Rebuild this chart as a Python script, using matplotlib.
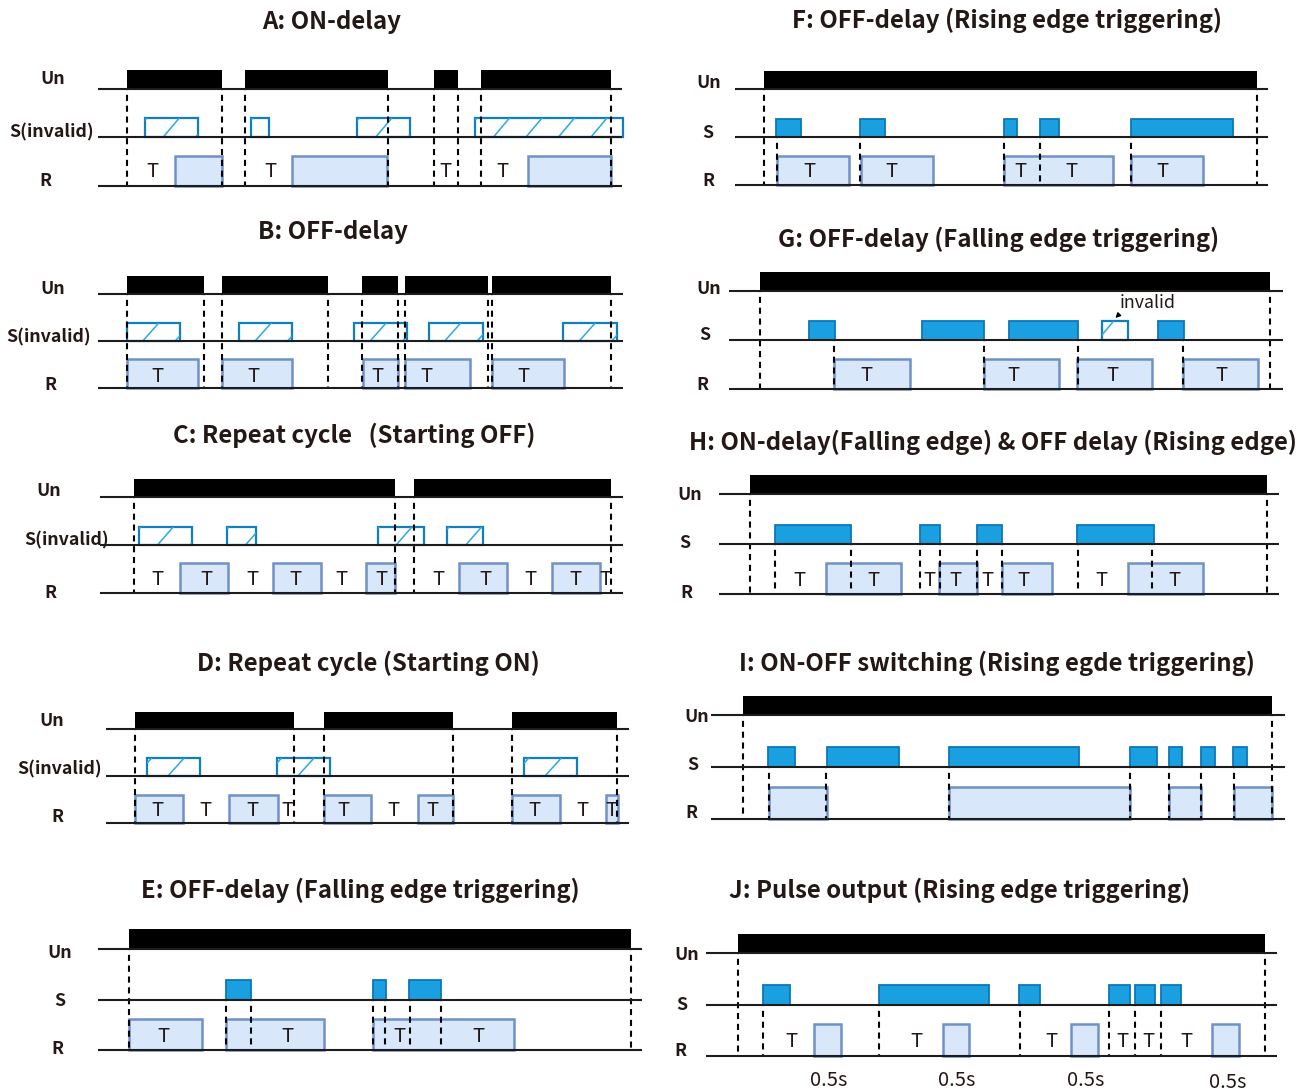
import matplotlib
matplotlib.use("Agg")
import matplotlib.pyplot as plt
from matplotlib.patches import Rectangle

plt.rcParams['font.family'] = ['Noto Sans CJK SC', 'DejaVu Sans']
plt.rcParams['lines.scale_dashes'] = False

# ---- timing data: (start, end) of every ON interval on a shared time scale ----
A_UN = [(127, 222), (245, 387.6), (434.4, 458.5), (481, 611.2)]
A_S = [(144.8, 198.3), (251, 269.3), (357.3, 410.4), (475, 622.8)]
A_R = [(174.7, 221.6), (292.5, 387), (528, 611)]
A_T = [152.5, 270.5, 445.5, 502]

B_UN = [(127, 204.1), (222.4, 328.2), (362.2, 398.3), (404.6, 487.6), (492.5, 610.8)]
B_S = [(127, 180.5), (239.4, 292.5), (354.4, 407.5), (429, 482.6), (563.5, 616.6)]
B_R = [(127, 198), (222, 292.5), (363, 398.3), (404.6, 469.7), (492.5, 564)]
B_T = [157.2, 253.5, 377.1, 426.1, 523.5]

C_UN = [(134, 395.4), (413.7, 610.8)]
C_S = [(139, 192.5), (227, 256.4), (377.6, 424.5), (447.3, 483)]
C_R = [(180.5, 227.8), (273.4, 320.7), (366.4, 395.4), (459.3, 507), (552.3, 600)]
C_T = [157.2, 206.1, 252.5, 295.8, 341.8, 381.2, 438.9, 485, 530.5, 575.5, 605.3]

D_UN = [(135.3, 294.2), (324.5, 453.5), (511.6, 617.4)]
D_S = [(146.9, 200.4), (276.8, 330.3), (524, 577.2)]
D_R = [(135.3, 183), (229.5, 277.6), (324.5, 371.4), (418.3, 453), (512.4, 559.8), (606.2, 618)]
D_T = [157.2, 205.7, 252.5, 287.1, 343.9, 393.7, 432.3, 534.8, 582.5, 611.5]

E_UN = [(129, 630.7)]
E_S = [(226, 251.5), (372.6, 386.3), (409.5, 441)]
E_R = [(128.6, 202.5), (226, 324.5), (373, 514.5)]
E_T = [163.5, 287.5, 399.5, 478.5]
E_MARKS = [226, 251, 372.6, 385, 410, 441]

F_UN = [(764, 1258.7)]
F_S = [(776.6, 801.9), (860.8, 886), (1005.2, 1018.5), (1041.3, 1060.8), (1132.2, 1235)]
F_R = [(777, 849.6), (861.2, 933.8), (1005.2, 1114.3), (1132.6, 1204.4)]
F_T = [809.8, 892.7, 1021.8, 1072.4, 1164.5]
F_MARKS = [777, 861, 1005, 1041.7, 1132.5]

G_UN = [(760.4, 1272.4)]
G_S = [(809.8, 835.5), (923, 985.3), (1009.8, 1079), (1159.5, 1185.3)]
G_S_INVALID = [(1103.5, 1129.2)]
G_R = [(835, 910.6), (984.9, 1060.4), (1078.6, 1154), (1184.9, 1260.4)]
G_T = [867.4, 1015, 1114.3, 1223.4]
G_MARKS = [835, 985, 1079, 1185]

H_UN = [(750.4, 1268.7)]
H_S = [(775.3, 852), (920.5, 940.5), (977.8, 1003.5), (1078.6, 1155.4)]
H_R = [(826.3, 902.3), (940, 977.8), (1003, 1053.7), (1129.3, 1205.2)]
H_T = [799.8, 874.5, 930.5, 956.2, 989, 1025, 1102.7, 1175.7]
H_MARKS = [775.5, 852, 921, 940.5, 978, 1003, 1079, 1154]

I_UN = [(743.4, 1274.5)]
I_S = [(768.7, 795.6), (827.2, 899.4), (950, 1080.7), (1131.3, 1158.3), (1170.3, 1184), (1202.7, 1216.4), (1235, 1249)]
I_R = [(769, 827.2), (950, 1131.7), (1170.3, 1202.7), (1235.5, 1274.5)]
I_T = []
I_MARKS = [769, 827, 950.4, 1131.7, 1170.3, 1202.7, 1235.5]

J_UN = [(738.4, 1266.6)]
J_S = [(763.3, 790.2), (879.5, 989.8), (1020.5, 1041.3), (1111, 1131.3), (1136.7, 1157), (1162.4, 1182.8)]
J_R = [(815, 841.7), (943.8, 970), (1072.8, 1099), (1214.3, 1240.5)]
J_T = [792, 917.6, 1053, 1124.3, 1150, 1188]
J_MARKS = [763.5, 879.5, 1021, 1111, 1137, 1162.6]
J_PULSE_LABELS = ['0.5s', '0.5s', '0.5s', '0.5s']
J_PULSE_X = [829.3, 957.9, 1087, 1229.7]

TITLES = {
    'A': 'A: ON-delay', 'B': 'B: OFF-delay', 'C': 'C: Repeat cycle   (Starting OFF)',
    'D': 'D: Repeat cycle (Starting ON)', 'E': 'E: OFF-delay (Falling edge triggering)',
    'F': 'F: OFF-delay (Rising edge triggering)', 'G': 'G: OFF-delay (Falling edge triggering)',
    'H': 'H: ON-delay(Falling edge) & OFF delay (Rising edge)',
    'I': 'I: ON-OFF switching (Rising egde triggering)', 'J': 'J: Pulse output (Rising edge triggering)',
}

# ---- layout of each panel, in figure pixels ----
LAYOUT = {
    'A': dict(tit=(331.5, 21), lx=(98, 622), Un=(88.5, 70), S=(137, 118), R=(186, 156),
              lab=((53, 78), (52, 131), (45, 179)), ty=170, sl='S(invalid)', phase=18.5),
    'B': dict(tit=(333, 230), lx=(98, 623), Un=(293.5, 276), S=(340.7, 322.7), R=(387.5, 359),
              lab=((53, 287), (49, 336), (50, 384)), ty=375, sl='S(invalid)', phase=16),
    'C': dict(tit=(354.5, 434), lx=(100, 622.6), Un=(497, 479), S=(545, 526.7), R=(593, 562.7),
              lab=((49, 490), (67, 539), (50.6, 591)), ty=578, sl='S(invalid)', phase=18.5),
    'D': dict(tit=(368, 662), lx=(106, 629.5), Un=(729.3, 712), S=(776, 758.3), R=(823.3, 795),
              lab=((51.5, 719), (60, 768), (57, 815)), ty=809, sl='S(invalid)', phase=21),
    'E': dict(tit=(360.6, 889), lx=(98, 642), Un=(949, 929), S=(999.7, 980), R=(1050, 1019),
              lab=((60, 952), (59.5, 999), (57.5, 1047)), ty=1035, sl='S'),
    'F': dict(tit=(1008, 19), lx=(735, 1270), Un=(89.3, 71), S=(137, 118.7), R=(185, 156),
              lab=((708.5, 81), (708.5, 132), (709, 179)), ty=170, sl='S'),
    'G': dict(tit=(1000, 238), lx=(729, 1285), Un=(290.7, 272), S=(340.3, 321.3), R=(389.3, 359.3),
              lab=((708.5, 287), (704.8, 334), (702.3, 384)), ty=374, sl='S'),
    'H': dict(tit=(994, 441), lx=(719.3, 1281), Un=(493.7, 475), S=(544.3, 524.7), R=(594.3, 563.3),
              lab=((690, 493), (685.3, 541), (686.5, 592)), ty=579, sl='S'),
    'I': dict(tit=(998, 662), lx=(711, 1287), Un=(715.3, 696), S=(767, 747.3), R=(818.7, 787),
              lab=((697, 715), (692.7, 763), (691.5, 811)), ty=796, sl='S'),
    'J': dict(tit=(961, 889), lx=(706, 1278.6), Un=(953.3, 934), S=(1004.7, 984.7), R=(1056, 1024),
              lab=((686.5, 954), (681.5, 1003), (680.7, 1049)), ty=1040, sl='S'),
}

INK = '#231815'
S_FILL, S_EDGE = '#1a9fe0', '#0b78b8'
INV_EDGE, SLASH = '#0f7fc0', '#29a9e6'
R_FILL, R_EDGE = '#d8e7fa', '#7090c8'
DASH = (3.6, (4.4, 3.4))
SLASH_GAP = 32.5
TITLE_SIZE = 17.3
LABEL_SIZE = 12.8
TEXT_DY = 1.5

fig = plt.figure(figsize=(12.99, 10.91), dpi=100, facecolor='white')
ax_left = fig.add_axes([0, 0, 1, 1])
ax_left.set_xlim(0, 1299)
ax_left.set_ylim(1091, 0)
ax_left.axis('off')
# the right-hand column runs on a very slightly tighter time scale
ax_right = fig.add_axes([0, 0, 1, 1])
ax_right.set_xlim(-2.15, 1301.15)
ax_right.set_ylim(1091, 0)
ax_right.axis('off')
ax_right.patch.set_alpha(0)


def invalid_box(ax, x0, x1, base, top, phase):
    ax.add_patch(Rectangle((x0, top), x1 - x0, base - top, fc='white', ec=INV_EDGE, lw=1.6, zorder=3))
    clip = Rectangle((x0, top), x1 - x0, base - top, transform=ax.transData)
    x = x0 + phase - SLASH_GAP
    while x < x1:
        ln, = ax.plot([x, x + 16], [base, top], color=SLASH, lw=1.1, zorder=3.1)
        ln.set_clip_path(clip)
        x += SLASH_GAP


def panel(ax, key, un, s, r, t, marks=(), invalid=()):
    L = LAYOUT[key]
    ax.text(L['tit'][0], L['tit'][1] + TEXT_DY, TITLES[key], ha='center', va='center',
            fontsize=TITLE_SIZE, fontweight='bold', color=INK)
    for pos, lab in zip(L['lab'], ('Un', L['sl'], 'R')):
        ax.text(pos[0], pos[1] + TEXT_DY, lab, ha='center', va='center', fontsize=LABEL_SIZE,
                fontweight='bold', color=INK)
    for x0, x1 in un:
        ax.add_patch(Rectangle((x0, L['Un'][1]), x1 - x0, L['Un'][0] - L['Un'][1],
                               fc='black', ec='none', zorder=3))
    hatched = L['sl'] != 'S'
    for x0, x1 in s:
        if hatched:
            invalid_box(ax, x0, x1, L['S'][0], L['S'][1], L['phase'])
        else:
            ax.add_patch(Rectangle((x0, L['S'][1]), x1 - x0, L['S'][0] - L['S'][1],
                                   fc=S_FILL, ec=S_EDGE, lw=1.3, zorder=3))
    for x0, x1 in invalid:
        invalid_box(ax, x0, x1, L['S'][0], L['S'][1], 28)
    for x0, x1 in r:
        ax.add_patch(Rectangle((x0, L['R'][1]), x1 - x0, L['R'][0] - L['R'][1],
                               fc=R_FILL, ec=R_EDGE, lw=1.8, zorder=2))
    edges = sorted({e for iv in un for e in iv})
    ax.vlines(edges, L['Un'][0], L['R'][0], colors='black', lw=1.5, linestyles=[DASH], zorder=4)
    if len(marks):
        ax.vlines(marks, L['S'][0], L['R'][0], colors='black', lw=1.5, linestyles=[DASH], zorder=4)
    for row in ('Un', 'S', 'R'):
        ax.plot(L['lx'], [L[row][0]] * 2, color='#1c1c1c', lw=1.5, zorder=5, solid_capstyle='butt')
    for x in t:
        ax.text(x, L['ty'] + TEXT_DY, 'T', ha='center', va='center', fontsize=14.5,
                color=INK, zorder=6)


panel(ax_left, 'A', A_UN, A_S, A_R, A_T)
panel(ax_left, 'B', B_UN, B_S, B_R, B_T)
panel(ax_left, 'C', C_UN, C_S, C_R, C_T)
panel(ax_left, 'D', D_UN, D_S, D_R, D_T)
panel(ax_left, 'E', E_UN, E_S, E_R, E_T, E_MARKS)
panel(ax_right, 'F', F_UN, F_S, F_R, F_T, F_MARKS)
panel(ax_right, 'G', G_UN, G_S, G_R, G_T, G_MARKS, G_S_INVALID)
panel(ax_right, 'H', H_UN, H_S, H_R, H_T, H_MARKS)
panel(ax_right, 'I', I_UN, I_S, I_R, I_T, I_MARKS)
panel(ax_right, 'J', J_UN, J_S, J_R, J_T, J_MARKS)

ax_right.text(1149, 303, 'invalid', ha='center', va='center', fontsize=12.8, color=INK)
ax_right.annotate('', xy=(1115, 320), xytext=(1122, 313),
                  arrowprops=dict(arrowstyle='-|>', color='black', lw=1, mutation_scale=7), zorder=6)
for x, lab, y in zip(J_PULSE_X, J_PULSE_LABELS, [1081, 1081, 1081, 1083]):
    ax_right.text(x, y, lab, ha='center', va='center', fontsize=14.5, color=INK)

fig.savefig('out.png', dpi=100, facecolor='white')
